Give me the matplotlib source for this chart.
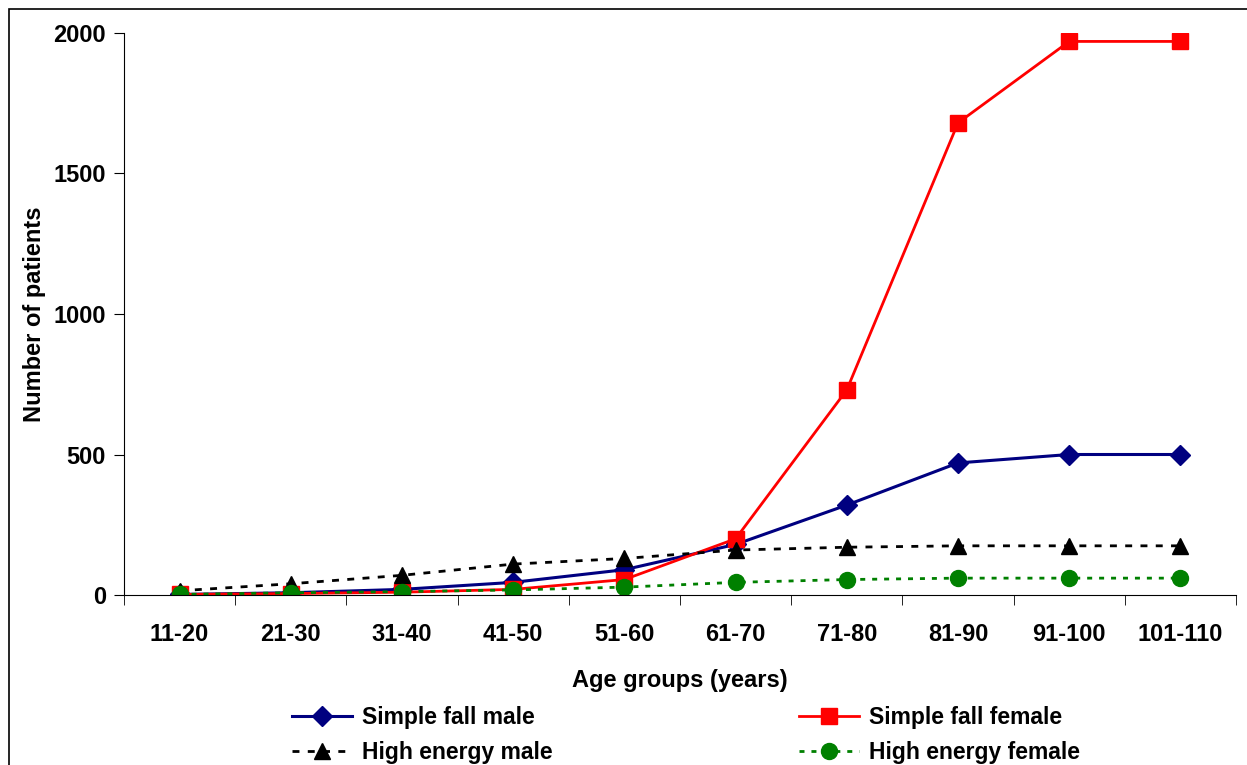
import matplotlib.pyplot as plt
from matplotlib.patches import Rectangle

plt.rcParams['font.family'] = ['Liberation Sans', 'DejaVu Sans']
plt.rcParams['font.weight'] = 'bold'

age_groups = ['11-20', '21-30', '31-40', '41-50', '51-60', '61-70',
              '71-80', '81-90', '91-100', '101-110']
simple_fall_male = [2, 8, 20, 45, 90, 180, 320, 470, 500, 500]
simple_fall_female = [2, 5, 10, 20, 55, 200, 730, 1680, 1970, 1970]
high_energy_male = [15, 40, 70, 110, 130, 160, 170, 175, 175, 175]
high_energy_female = [2, 8, 12, 18, 28, 45, 55, 60, 60, 60]

W, H = 1247, 765
fig = plt.figure(figsize=(W / 100, H / 100), dpi=100)
ax = fig.add_axes([124 / W, 1 - 595 / H, (1236 - 124) / W, (595 - 33) / H])

# outer frame of the original figure
fig.patches.append(Rectangle((9 / W, -0.05), 1.1, 1.05 - 9 / H, transform=fig.transFigure,
                             fill=False, edgecolor='black', linewidth=1.2))

x = list(range(len(age_groups)))
l1, = ax.plot(x, simple_fall_male, color='#000080', lw=2.2, marker='D', ms=10,
              label='Simple fall male')
l2, = ax.plot(x, simple_fall_female, color='#ff0000', lw=2, marker='s', ms=11,
              label='Simple fall female')
l3, = ax.plot(x, high_energy_male, color='black', lw=2, ls=(0, (2.5, 3)), marker='^', ms=12,
              label='High energy male')
l4, = ax.plot(x, high_energy_female, color='#008000', lw=2, ls=(0, (1.8, 2.5)), marker='o', ms=11.5,
              label='High energy female')

ax.set_xlim(-0.5, 9.5)
ax.set_ylim(0, 2000)
ax.set_yticks([0, 500, 1000, 1500, 2000])
ax.set_xticks(x)
ax.set_xticklabels(age_groups)
ax.set_xticks([i + 0.5 for i in range(-1, 10)], minor=True)
ax.tick_params(axis='x', which='major', length=0, pad=20, labelsize=17)
ax.tick_params(axis='x', which='minor', length=7, direction='out')
ax.tick_params(axis='y', length=7, direction='out', pad=6, labelsize=17)
for s in ['top', 'right']:
    ax.spines[s].set_visible(False)

ax.set_xlabel('Age groups (years)', fontsize=17, fontweight='bold', labelpad=17)
ax.set_ylabel('Number of patients', fontsize=17, fontweight='bold', labelpad=5)

mid = 1 - 735 / H
fig.legend([l1, l3], [l1.get_label(), l3.get_label()], loc='center left',
           bbox_to_anchor=(292 / W, mid), frameon=False, fontsize=16.5,
           handlelength=2.6, handletextpad=0.45, labelspacing=0.5,
           borderpad=0, borderaxespad=0)
fig.legend([l2, l4], [l2.get_label(), l4.get_label()], loc='center left',
           bbox_to_anchor=(799 / W, mid), frameon=False, fontsize=16.5,
           handlelength=2.6, handletextpad=0.45, labelspacing=0.5,
           borderpad=0, borderaxespad=0)

fig.savefig('out.png', dpi=100)
